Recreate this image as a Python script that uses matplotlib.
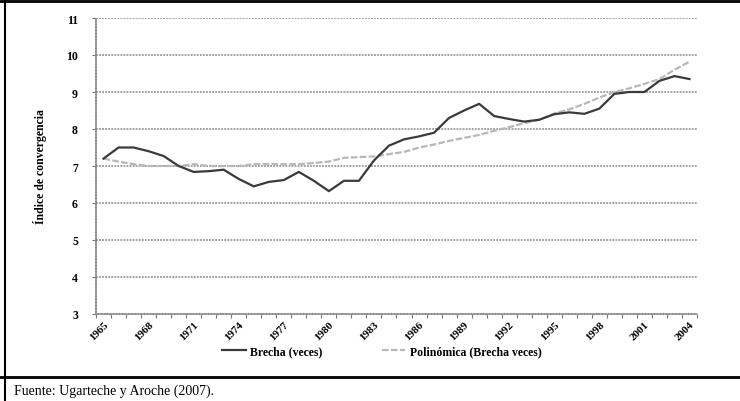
import matplotlib
matplotlib.use("Agg")
import matplotlib.pyplot as plt
from matplotlib.lines import Line2D

# data
years = list(range(1965, 2005))
brecha = [7.2, 7.5, 7.5, 7.4, 7.27, 7.0, 6.84, 6.86, 6.9, 6.65,
          6.45, 6.57, 6.62, 6.84, 6.6, 6.32, 6.6, 6.6, 7.15, 7.55,
          7.72, 7.8, 7.9, 8.3, 8.5, 8.68, 8.35, 8.27, 8.2, 8.25,
          8.4, 8.45, 8.41, 8.55, 8.95, 9.0, 9.0, 9.3, 9.43, 9.35]
polinomica = [7.2, 7.12, 7.05, 7.0, 7.0, 7.0, 7.05, 7.0, 7.0, 7.0,
              7.05, 7.05, 7.05, 7.05, 7.08, 7.12, 7.22, 7.24, 7.26, 7.32,
              7.38, 7.5, 7.58, 7.68, 7.76, 7.84, 7.95, 8.05, 8.16, 8.25,
              8.42, 8.53, 8.68, 8.85, 9.0, 9.1, 9.22, 9.35, 9.6, 9.82]
tick_years = list(range(1965, 2005, 3))
y_ticks = [3, 4, 5, 6, 7, 8, 9, 10, 11]

serif = ['Liberation Serif', 'DejaVu Serif']

fig = plt.figure(figsize=(7.4, 4.02), dpi=100)
ax = fig.add_axes([96 / 740, 87 / 402, 601 / 740, 296 / 402])

ax.plot(years, brecha, color='#3a3a3a', lw=1.6, label='Brecha (veces)', zorder=3)
ax.plot(years, polinomica, color='#b8b8b8', lw=1.6, ls=(0, (3, 1)),
        label='Polinómica (Brecha veces)', zorder=2)

ax.set_xlim(1964.5, 2004.5)
ax.set_ylim(3, 11)
ax.set_yticks(y_ticks)
ax.set_xticks(tick_years)
ax.set_xticklabels([str(y) for y in tick_years], rotation=45, ha='right',
                   rotation_mode='anchor', family=serif, fontsize=8, fontweight='bold')
ax.set_yticklabels([str(v) for v in y_ticks], family=serif, fontsize=8.5, fontweight='bold')
ax.set_xticks([y + 0.5 for y in range(1964, 2005)], minor=True)
ax.tick_params(axis='x', which='major', length=0, pad=4)
ax.tick_params(axis='x', which='minor', length=3, color='#777777', width=0.8)
ax.tick_params(axis='y', length=3, color='#777777', width=0.8, pad=10)

for y in y_ticks[1:]:
    ax.axhline(y, color='#888888', lw=1.1, ls=(0, (1.2, 0.8)), zorder=1)
for s in ['top', 'right']:
    ax.spines[s].set_visible(False)
for s in ['left', 'bottom']:
    ax.spines[s].set_color('#888888')
    ax.spines[s].set_linestyle((0, (1.2, 0.8)))
    ax.spines[s].set_linewidth(1.1)

ax.set_ylabel('Índice de convergencia', family=serif, fontsize=8.5, fontweight='bold', labelpad=14)

fig.legend(loc='center', bbox_to_anchor=(382 / 740, 1 - 352 / 402), ncol=2,
           frameon=False, prop={'family': serif, 'size': 8.5, 'weight': 'bold'},
           handlelength=2.0, columnspacing=5, handletextpad=0.4)

# frame lines
fig.add_artist(Line2D([0, 1], [1 - 2 / 402, 1 - 2 / 402], color='black', lw=2))
fig.add_artist(Line2D([5 / 740, 5 / 740], [0, 1], color='black', lw=1.5))
fig.add_artist(Line2D([0, 1], [1 - 378 / 402, 1 - 378 / 402], color='black', lw=2))

fig.text(14 / 740, 1 - 391 / 402, 'Fuente: Ugarteche y Aroche (2007).', family=serif,
         fontsize=10, va='center', ha='left')

fig.savefig('out.png', dpi=100)
